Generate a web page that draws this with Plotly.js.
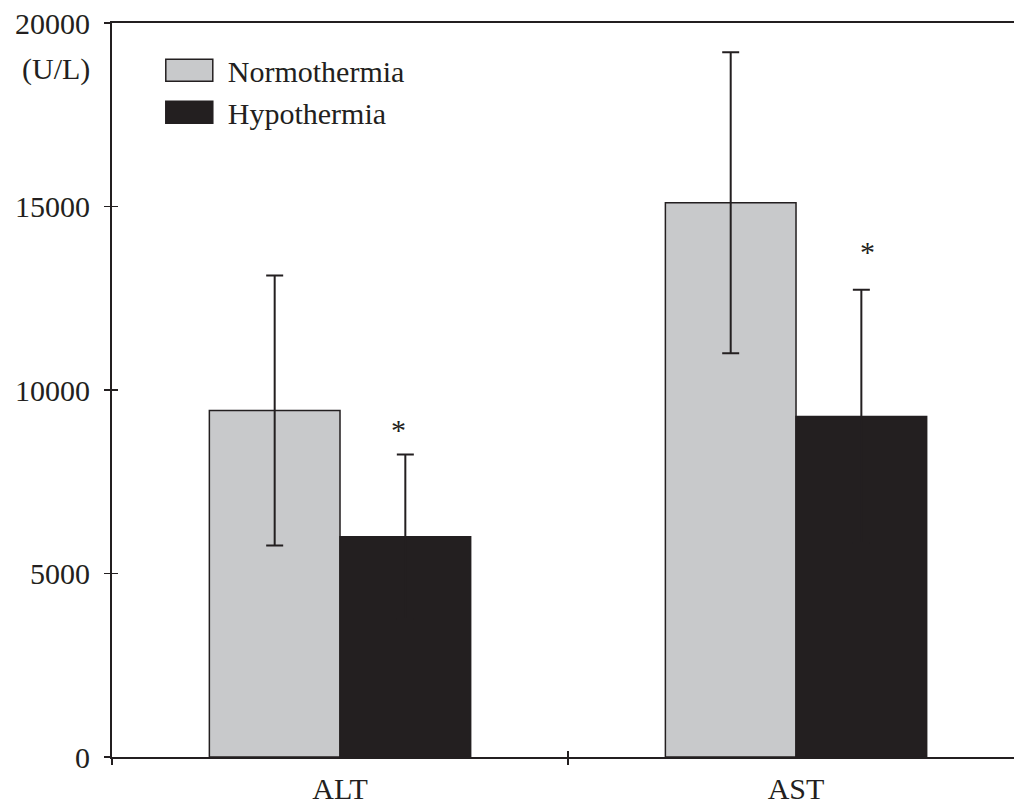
<!DOCTYPE html>
<html>
<head>
<meta charset="utf-8">
<script src="https://cdn.plot.ly/plotly-3.0.1.min.js"></script>
<style>html,body{margin:0;padding:0;background:#fff;}</style>
</head>
<body>
<div id="chart" style="width:1014px;height:804px;"></div>
<script>
// Data (U/L)
const categories = ['ALT', 'AST'];
const normothermia = [9440, 15100];
const normothermiaErr = [3680, 4100];
const hypothermia = [6000, 9280];
const hypothermiaErr = [2240, 3450];
const significant = ['*', '*'];
const yTickVals = [0, 5000, 10000, 15000, 20000];
const yTickText = ['0', '5000', '10000', '15000', '20000'];
const unitLabel = '(U/L)';

const ink = '#231f20';
const fontFam = '"Liberation Serif", "Times New Roman", Times, serif';

const traces = [
  {
    type: 'bar', name: 'Normothermia', x: categories, y: normothermia,
    marker: {color: '#c8c9cb', line: {color: ink, width: 1.5}},
    error_y: {type: 'data', array: normothermiaErr, visible: true, color: ink, thickness: 2, width: 8.5}
  },
  {
    type: 'bar', name: 'Hypothermia', x: categories, y: hypothermia,
    marker: {color: ink, line: {color: ink, width: 1.5}},
    error_y: {type: 'data', array: hypothermiaErr, visible: true, color: ink, thickness: 2, width: 8.5}
  }
];

const starShift = [58, 71];
const starLift = [25, 38];
const annotations = categories.map((c, i) => ({
  x: c, y: hypothermia[i] + hypothermiaErr[i], xref: 'x', yref: 'y',
  text: significant[i], showarrow: false, xanchor: 'center', yanchor: 'middle',
  xshift: starShift[i], yshift: starLift[i],
  font: {family: fontFam, size: 30, color: ink}
}));
annotations.push({
  x: 0, y: 0.937, xref: 'paper', yref: 'paper', text: unitLabel, showarrow: false,
  xanchor: 'right', yanchor: 'middle', xshift: -20,
  font: {family: fontFam, size: 30, color: ink}
});

const layout = {
  width: 1014, height: 804,
  margin: {l: 112, r: 0, t: 23, b: 47, pad: 0},
  paper_bgcolor: '#fff', plot_bgcolor: '#fff',
  font: {family: fontFam, size: 30, color: ink},
  barmode: 'group', bargap: 0.427, bargroupgap: 0,
  showlegend: true,
  legend: {
    x: 0.043, y: 0.971, xanchor: 'left', yanchor: 'top',
    bgcolor: 'rgba(0,0,0,0)', borderwidth: 0,
    font: {family: fontFam, size: 30, color: ink},
    itemwidth: 67, traceorder: 'normal'
  },
  xaxis: {
    type: 'category', range: [-0.5, 1.478], fixedrange: true,
    showline: true, linecolor: ink, linewidth: 2, mirror: true,
    showgrid: false, zeroline: false,
    ticks: 'outside', tickson: 'boundaries', ticklen: 6, tickwidth: 1.5, tickcolor: ink,
    ticklabelstandoff: 4,
    tickfont: {family: fontFam, size: 30, color: ink}
  },
  xaxis2: {
    overlaying: 'x', anchor: 'y', type: 'linear', range: [-0.5, 1.478],
    showline: false, showgrid: false, zeroline: false,
    ticks: 'inside', ticklen: 6, tickwidth: 1.5, tickcolor: ink,
    tickvals: [0.5], showticklabels: false, side: 'bottom'
  },
  yaxis: {
    range: [0, 20000], fixedrange: true,
    showline: true, linecolor: ink, linewidth: 2,
    showgrid: false, zeroline: false,
    tickvals: yTickVals, ticktext: yTickText,
    ticks: 'outside', ticklen: 6, tickwidth: 1.5, tickcolor: ink,
    ticklabelstandoff: 8,
    tickfont: {family: fontFam, size: 30, color: ink}
  },
  yaxis2: {
    overlaying: 'y', anchor: 'x', range: [0, 20000], side: 'left',
    showline: false, showgrid: false, zeroline: false,
    tickvals: yTickVals, ticks: 'inside', ticklen: 6, tickwidth: 1.5, tickcolor: ink,
    showticklabels: false
  },
  annotations: annotations
};

// invisible helper trace so the overlay axes (crossing tick marks) are drawn
traces.push({type: 'scatter', x: [], y: [], xaxis: 'x2', yaxis: 'y2', showlegend: false, hoverinfo: 'skip'});

function widenLegendSymbols() {
  document.querySelectorAll('#chart .legendpoints path').forEach(p => {
    p.setAttribute('d', 'M23.5,11H-23.5V-11H23.5Z');
    p.style.strokeWidth = '1.5px';
    p.style.stroke = ink;
  });
}

Plotly.newPlot('chart', traces, layout, {staticPlot: true, displayModeBar: false}).then(() => {
  widenLegendSymbols();
  setTimeout(widenLegendSymbols, 0);
});
widenLegendSymbols();
</script>
</body>
</html>
